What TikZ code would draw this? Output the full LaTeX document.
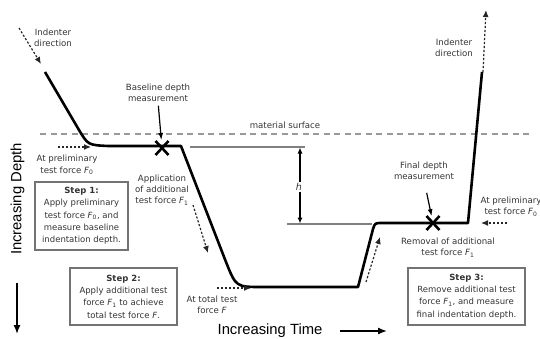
\documentclass[tikz,border=0pt]{standalone}
\usepackage{fontspec}
\setmainfont{DejaVu Sans}
\newfontfamily\axfont{Liberation Sans}
\usetikzlibrary{arrows.meta,calc}
\newcommand\Fsub[1]{\textit{F}\textsubscript{#1}}
\tikzset{
 lbl/.style={font=\fontsize{8.6}{11.2}\selectfont, text=black!80, align=center, inner sep=0pt},
 curve/.style={line width=2.6pt, line join=round},
 darrow/.style={line width=1.2pt, dash pattern=on 2.2pt off 1.8pt, -{Latex[length=7pt,width=6pt]}, draw=black!85},
 sarrow/.style={line width=1.2pt, -{Latex[length=7pt,width=5pt]}},
 harrow/.style={line width=1.1pt, {Latex[length=6pt,width=5pt]}-{Latex[length=6pt,width=5pt]}},
 stepbox/.style={draw=black!55, line width=1.2pt, align=center, inner sep=0pt, font=\fontsize{8.5}{12.3}\selectfont, text=black!80},
 gline/.style={draw=black!50, line width=1.6pt},
 surf/.style={draw=black!40, line width=1.6pt, dash pattern=on 6pt off 4.5pt},
 xmark/.style={line width=2.6pt},
 axlbl/.style={font=\axfont\fontsize{14.8}{15}\selectfont, inner sep=0pt},
 axarrow/.style={line width=1.4pt, -{Latex[length=9pt,width=7pt]}},
}
\begin{document}
\begin{tikzpicture}[x=1pt,y=-1pt]
\useasboundingbox (0,0) rectangle (540,338);
% material surface
\coordinate (s1) at (40,134);
\coordinate (s2) at (532,134);
\draw[surf] (s1) -- (s2);
\node[lbl] (mat) at (285,125) {material surface};
% gray reference lines
\coordinate (g1) at (190,147);
\coordinate (g2) at (305,147);
\coordinate (g3) at (287,224);
\coordinate (g4) at (372,224);
\draw[gline] (g1) -- (g2);
\draw[gline] (g3) -- (g4);
% h dimension
\coordinate (ht) at (300,147.5);
\coordinate (hb) at (300,223.5);
\draw[harrow] (ht) -- (hb);
\node[fill=white, inner sep=1.2pt, font=\fontsize{9.5}{9.5}\selectfont\itshape, text=black!80] (h) at (299,187) {h};
% main curve
\draw[curve] (45,72) -- (79,130) .. controls (88,145) .. (108,146) -- (181,146) -- (226,262)
  .. controls (236,287) .. (262,287) -- (358,287) -- (373,229) .. controls (375,223) .. (382,223)
  -- (468,223) -- (482,72);
% X markers
\coordinate (xb) at (162,148);
\coordinate (xf) at (433,223);
\draw[xmark] ($(xb)+(-6.5,-7)$) -- ($(xb)+(6.5,7)$) ($(xb)+(-6.5,7)$) -- ($(xb)+(6.5,-7)$);
\draw[xmark] ($(xf)+(-6.5,-7)$) -- ($(xf)+(6.5,7)$) ($(xf)+(-6.5,7)$) -- ($(xf)+(6.5,-7)$);
% labels
\node[lbl] (ind1) at (53,37.5) {Indenter\\direction};
\node[lbl] (ind2) at (454,47.5) {Indenter\\direction};
\node[lbl] (base) at (158,92.5) {Baseline depth\\measurement};
\node[lbl] (pre1) at (67,165) {At preliminary\\test force \Fsub{0}};
\node[lbl] (app) at (162,190) {Application\\of additional\\test force \Fsub{1}};
\node[lbl] (tot) at (212,304.5) {At total test\\force \textit{F}};
\node[lbl] (fin) at (424,171) {Final depth\\measurement};
\node[lbl] (rem) at (448,247.5) {Removal of additional\\test force \Fsub{1}};
\node[lbl] (pre2) at (511,206.5) {At preliminary\\test force \Fsub{0}};
% pointer arrows
\draw[sarrow, shorten <=4pt, shorten >=8pt] (base.south) -- (xb);
\draw[sarrow, shorten <=13pt, shorten >=7pt] (fin.south) -- (xf);
% dashed direction arrows
\coordinate (d1a) at (19,28);   \coordinate (d1b) at (41,64);
\coordinate (d2a) at (58,147);  \coordinate (d2b) at (91,147);
\coordinate (d3a) at (193,205); \coordinate (d3b) at (208,253);
\coordinate (d4a) at (217,288); \coordinate (d4b) at (251,288);
\coordinate (d5a) at (366,282); \coordinate (d5b) at (380,237);
\coordinate (d6a) at (507,223); \coordinate (d6b) at (481,223);
\coordinate (d7a) at (483,72);  \coordinate (d7b) at (486,10);
\draw[darrow] (d1a) -- (d1b);
\draw[darrow] (d2a) -- (d2b);
\draw[darrow] (d3a) -- (d3b);
\draw[darrow] (d4a) -- (d4b);
\draw[darrow] (d5a) -- (d5b);
\draw[darrow] (d6a) -- (d6b);
\draw[darrow] (d7a) -- (d7b);
% step boxes
\node[stepbox, minimum width=93pt, minimum height=68pt] (step1) at (81.5,216)
  {\textbf{Step 1:}\\Apply preliminary\\test force \Fsub{0}, and\\measure baseline\\indentation depth.};
\node[stepbox, minimum width=107pt, minimum height=57pt] (step2) at (123.5,296.5)
  {\textbf{Step 2:}\\Apply additional test\\force \Fsub{1} to achieve\\total test force \textit{F}.};
\node[stepbox, minimum width=117pt, minimum height=57pt] (step3) at (466.5,296.5)
  {\textbf{Step 3:}\\Remove additional test\\force \Fsub{1}, and measure\\final indentation depth.};
% axes
\node[axlbl, rotate=90] (depth) at (17.5,199) {Increasing Depth};
\coordinate (da1) at (17,283); \coordinate (da2) at (17,334);
\draw[axarrow] (da1) -- (da2);
\node[axlbl] (time) at (270,331) {Increasing Time};
\coordinate (ta1) at (340,331); \coordinate (ta2) at (387,331);
\draw[axarrow] (ta1) -- (ta2);
\end{tikzpicture}
\end{document}
